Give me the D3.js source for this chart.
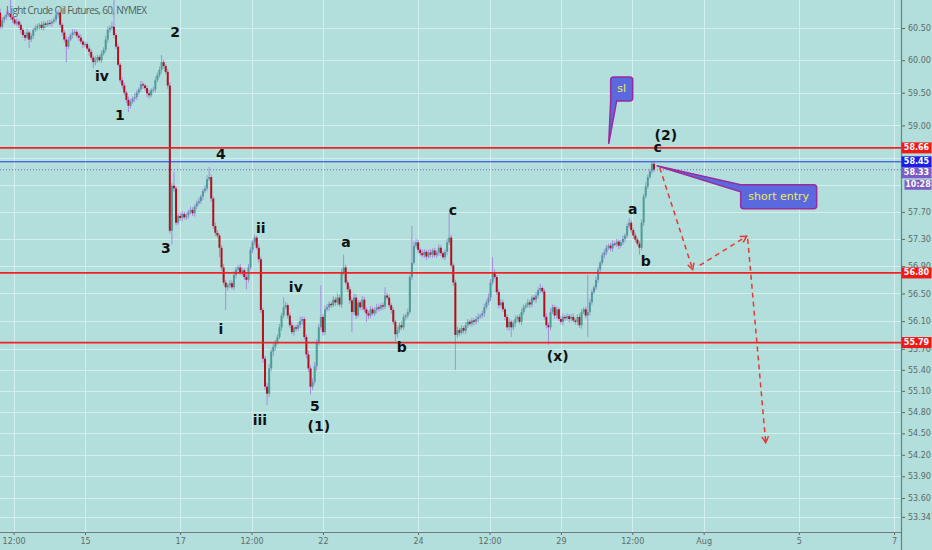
<!DOCTYPE html>
<html>
<head>
<meta charset="utf-8">
<script src="https://cdn.jsdelivr.net/npm/d3@7"></script>
<style>
  body { margin: 0; background: #b2dfdb; }
  svg { display: block; }
</style>
</head>
<body>
<div id="chart"></div>
<script>
// hourly bars, Light Crude Oil Futures (CL1!), 60 min
const firstOpen = 60.74;
const closes = [
  60.52,60.63,60.67,60.71,60.72,60.67,60.63,60.57,60.60,60.55,
  60.47,60.39,60.35,60.43,60.32,60.38,60.47,60.50,60.53,60.55,
  60.50,60.57,60.55,60.58,60.57,60.60,60.63,60.71,60.74,60.55,
  60.43,60.32,60.21,60.32,60.39,60.43,60.44,60.38,60.35,60.29,
  60.24,60.25,60.18,60.13,60.04,59.97,60.00,60.05,60.00,60.10,
  60.16,60.32,60.47,60.50,60.52,60.39,60.21,59.93,59.69,59.61,
  59.50,59.39,59.30,59.36,59.41,59.43,59.50,59.55,59.63,59.61,
  59.57,59.49,59.46,59.54,59.55,59.69,59.77,59.85,59.97,59.91,
  59.82,59.61,57.42,58.09,58.05,57.54,57.64,57.61,57.67,57.62,
  57.65,57.70,57.73,57.68,57.78,57.83,57.86,57.93,58.01,58.05,
  58.19,58.22,57.90,57.49,57.39,57.35,57.17,56.88,56.66,56.59,
  56.62,56.65,56.59,56.77,56.85,56.88,56.81,56.84,56.74,56.70,
  56.88,57.14,57.25,57.32,57.17,57.00,56.26,55.56,55.16,55.06,
  55.42,55.66,55.73,55.80,55.87,56.01,56.18,56.30,56.33,56.18,
  56.04,55.94,56.01,55.99,56.04,56.10,56.13,55.87,55.62,55.42,
  55.16,55.23,55.45,55.80,56.01,56.16,55.94,56.27,56.30,56.35,
  56.33,56.41,56.37,56.44,56.34,56.81,56.88,56.66,56.56,56.40,
  56.23,56.44,56.18,56.37,56.30,56.41,56.27,56.21,56.18,56.27,
  56.21,56.26,56.30,56.28,56.33,56.31,56.47,56.44,56.33,56.26,
  56.09,55.91,55.97,56.04,56.01,56.16,56.18,56.23,56.74,56.95,
  57.20,57.25,57.14,57.09,57.06,57.11,57.04,57.10,57.07,57.13,
  57.06,57.10,57.17,57.09,57.03,57.11,57.25,57.32,56.91,56.66,
  55.90,55.97,55.93,56.00,55.96,56.04,56.09,56.06,56.11,56.09,
  56.13,56.16,56.18,56.21,56.30,56.37,56.44,56.66,56.81,56.74,
  56.52,56.33,56.37,56.27,56.16,56.01,56.09,56.01,56.07,56.13,
  56.16,56.09,56.23,56.30,56.33,56.37,56.34,56.44,56.41,56.47,
  56.55,56.58,56.53,56.16,56.04,56.01,56.23,56.30,56.18,56.27,
  56.13,56.09,56.16,56.14,56.17,56.13,56.16,56.11,56.09,56.16,
  56.04,56.23,56.27,56.18,56.23,56.37,56.52,56.59,56.70,56.85,
  56.95,57.06,57.10,57.17,57.20,57.16,57.23,57.22,57.26,57.20,
  57.25,57.30,57.35,57.49,57.54,57.43,57.35,57.29,57.23,57.17,
  57.54,57.93,58.08,58.22,58.31,58.42,58.33
];
// wick lengths above / below the body, in cents
const wickUp = [
  6,4,3,5,4,23,3,4,5,3, 4,3,5,6,3,4,3,5,4,3, 5,4,3,4,5,3,4,5,4,3,
  3,4,5,4,3,5,4,3,4,5, 3,4,3,5,4,3,6,4,3,5, 4,6,5,4,8,42,3,4,3,5,
  4,3,5,4,3,6,4,3,5,4, 3,4,5,3,4,6,4,5,11,4, 3,4,5,4,21,4,3,5,4,3,
  4,3,5,4,3,4,5,3,4,5, 6,15,4,3,5,4,3,4,5,4, 3,5,4,6,4,3,5,4,3,4,
  5,4,3,4,3,5,4,3,4,5, 6,4,5,3,4,5,4,14,5,3, 4,5,3,4,5,6,4,3,4,5,
  4,5,6,4,5,46,4,6,5,4, 3,5,4,6,4,5,19,4,3,5, 4,6,5,4,3,5,4,3,4,5,
  3,4,5,4,3,4,12,4,5,3, 4,3,5,4,6,4,3,5,4,54, 6,5,4,3,5,4,3,4,5,3,
  4,3,5,4,3,4,5,36,4,3, 4,5,3,4,3,5,4,3,4,3, 4,5,3,4,5,4,6,5,22,4,
  3,4,5,4,3,4,5,3,4,5, 3,4,5,4,3,5,4,3,4,5, 4,6,3,4,5,4,5,4,3,4,
  3,4,5,3,4,3,4,5,3,4, 5,4,3,4,54,5,4,3,5,4, 3,4,5,4,3,4,5,3,4,3,
  4,5,3,4,7,4,3,4,3,4, 5,4,6,4,3,3,4
];
const wickDn = [
  4,3,5,4,3,4,5,3,4,5, 6,4,5,3,13,4,5,3,4,5, 3,4,5,3,4,5,3,4,5,4,
  5,4,24,4,3,5,4,3,5,4, 5,4,3,6,4,9,5,4,3,4, 3,4,5,4,3,5,4,3,4,5,
  4,5,10,4,3,5,4,3,4,5, 4,6,5,3,4,5,3,4,5,4, 4,5,4,20,5,4,3,4,5,3,
  4,5,3,4,5,4,3,4,5,3, 4,3,5,4,5,4,14,5,4,33, 5,4,3,4,5,3,4,5,4,14,
  4,3,5,4,3,5,4,6,5,16, 5,4,6,5,4,3,5,4,3,5, 4,3,5,4,3,4,5,4,6,5,
  11,5,4,6,5,4,5,4,3,5, 4,3,5,4,3,5,4,3,4,5, 29,4,5,3,4,5,4,12,5,4,
  3,4,5,4,3,5,4,3,4,5, 4,10,5,4,3,4,5,4,3,4, 3,4,5,4,3,4,5,3,4,5,
  3,4,5,4,3,4,5,4,3,5, 50,4,5,3,4,5,4,3,4,5, 4,5,3,4,5,3,4,5,4,3,
  4,5,3,4,5,4,5,14,4,5, 4,3,5,4,3,4,5,4,3,5, 4,5,3,4,5,25,4,3,5,4,
  3,4,5,4,3,5,4,3,4,5, 4,5,3,4,31,5,4,3,4,5, 4,3,5,4,3,4,5,3,4,5,
  3,4,5,4,3,4,5,4,3,10, 4,5,3,4,3,4,3
];
const barsBeforeJul15 = 41;
const barsPerDay = 23;

// time axis (trading days counted from 15 Jul session)
const dayTicks = [-1.5, 0, 2, 3.5, 5, 7, 8.5, 10, 11.5, 13, 15, 17];
const dayLabels = ['12:00', '15', '17', '12:00', '22', '24', '12:00', '29', '12:00', 'Aug', '5', '7'];

// price axis
const priceTicks = [60.5, 60, 59.5, 59, 58.5, 58.1, 57.7, 57.3, 56.9, 56.5, 56.1, 55.7, 55.4, 55.1, 54.8, 54.5, 54.2, 53.9, 53.6, 53.34];
const hiddenLabels = [58.5, 58.1];

// horizontal levels: stop, high, last, support 1, support 2
const levelPrices = [58.66, 58.45, 58.33, 56.80, 55.79];
const countdown = '10:28';

// wave count labels (bar index, price)
const waveText = ['iv', '2', '1', '4', '3', 'ii', 'i', 'iv', 'iii', '5', '(1)', 'a', 'b', 'c', '(x)', 'a', 'b', 'c', '(2)'];
const waveBar = [49.2, 84.5, 57.9, 106.7, 80.1, 126, 106.7, 142.9, 125.5, 152.1, 154, 167.1, 194.1, 218.8, 269.5, 305.7, 312, 317.8, 321.7];
const wavePrice = [59.75, 60.43, 59.16, 58.57, 57.17, 57.46, 55.99, 56.60, 54.69, 54.89, 54.61, 57.26, 55.72, 57.73, 55.60, 57.74, 56.97, 58.67, 58.85];

// projected path arrows
const arrowStartBar = [318.8, 338.1, 361.3];
const arrowStartPrice = [58.36, 56.91, 57.30];
const arrowEndBar = [334.7, 360.8, 370.0];
const arrowEndPrice = [56.85, 57.34, 54.37];

// callouts
const slTip = { bar: 294.1, price: 58.72, text: 'sl' };
const entryTip = { bar: 317.3, price: 58.39, text: 'short entry' };

const W = 932, H = 550;
const plotRight = 901, plotBottom = 532;

const x = d3.scaleLinear().domain([0, 17]).range([85, 894]);
const xb = k => x((k - barsBeforeJul15) / barsPerDay);
const y = d3.scaleLog().domain([60.5, 53.6]).range([28, 498]);

const svg = d3.select('#chart').append('svg')
  .attr('width', W)
  .attr('height', H)
  .style('background', '#b2dfdb');

svg.append('defs').append('clipPath').attr('id', 'plot')
  .append('rect').attr('x', 0).attr('y', 0).attr('width', plotRight).attr('height', plotBottom);

// grid
svg.append('g')
  .selectAll('line')
  .data(priceTicks)
  .join('line')
  .attr('x1', 0).attr('x2', plotRight)
  .attr('y1', d => Math.round(y(d)) + 0.5)
  .attr('y2', d => Math.round(y(d)) + 0.5)
  .attr('stroke', '#d3efec')
  .attr('stroke-width', 1);

svg.append('g')
  .selectAll('line')
  .data(dayTicks)
  .join('line')
  .attr('x1', d => Math.round(x(d)) + 0.5)
  .attr('x2', d => Math.round(x(d)) + 0.5)
  .attr('y1', 0).attr('y2', plotBottom)
  .attr('stroke', '#d3efec')
  .attr('stroke-width', 1);

// legend title
svg.append('text')
  .attr('x', 6).attr('y', 14)
  .attr('font-family', 'Open Sans, sans-serif')
  .attr('font-size', 10)
  .attr('textLength', 141)
  .attr('fill', '#4f5f5e')
  .text('Light Crude Oil Futures, 60, NYMEX');

// candles
const bars = closes.map((c, i) => {
  const o = i ? closes[i - 1] : firstOpen;
  return { i, o, c, h: Math.max(o, c) + wickUp[i] / 100, l: Math.min(o, c) - wickDn[i] / 100 };
});

const cg = svg.append('g').attr('clip-path', 'url(#plot)');

cg.selectAll('line.wick')
  .data(bars)
  .join('line')
  .attr('class', 'wick')
  .attr('x1', d => xb(d.i)).attr('x2', d => xb(d.i))
  .attr('y1', d => y(d.h)).attr('y2', d => y(d.l))
  .attr('stroke', '#a58ce0')
  .attr('stroke-width', 1);

cg.selectAll('rect.body')
  .data(bars)
  .join('rect')
  .attr('class', 'body')
  .attr('x', d => xb(d.i) - 1)
  .attr('width', 2)
  .attr('y', d => y(Math.max(d.o, d.c)))
  .attr('height', d => Math.max(1, y(Math.min(d.o, d.c)) - y(Math.max(d.o, d.c))))
  .attr('fill', d => d.c >= d.o ? '#4c9d97' : '#b3101c');

// horizontal levels
const levelColor = ['#ee2424', '#2b35e0', '#7e63c8', '#ee2424', '#ee2424'];
const levelWidth = [1.8, 1, 1, 1.8, 1.8];
svg.append('g')
  .selectAll('line')
  .data(levelPrices)
  .join('line')
  .attr('x1', 0).attr('x2', plotRight)
  .attr('y1', d => y(d)).attr('y2', d => y(d))
  .attr('stroke', (d, i) => levelColor[i])
  .attr('stroke-width', (d, i) => levelWidth[i])
  .attr('stroke-dasharray', (d, i) => i === 2 ? '1,2' : null);

// wave labels
svg.append('g')
  .selectAll('text')
  .data(waveText)
  .join('text')
  .attr('x', (d, i) => xb(waveBar[i]))
  .attr('y', (d, i) => y(wavePrice[i]))
  .attr('text-anchor', 'middle')
  .attr('dominant-baseline', 'central')
  .attr('font-family', 'DejaVu Sans, sans-serif')
  .attr('font-weight', 'bold')
  .attr('font-size', 14)
  .attr('fill', '#111')
  .text(d => d);

// projection arrows
const ag = svg.append('g')
  .attr('stroke', '#e53935')
  .attr('stroke-width', 1.5)
  .attr('fill', 'none');
arrowStartBar.forEach((b, i) => {
  const x1 = xb(b), y1 = y(arrowStartPrice[i]);
  const x2 = xb(arrowEndBar[i]), y2 = y(arrowEndPrice[i]);
  ag.append('line')
    .attr('x1', x1).attr('y1', y1).attr('x2', x2).attr('y2', y2)
    .attr('stroke-dasharray', '5,4');
  const a = Math.atan2(y2 - y1, x2 - x1);
  const len = 7, spread = 0.5;
  ag.append('path')
    .attr('d', `M${x2 - len * Math.cos(a - spread)},${y2 - len * Math.sin(a - spread)} L${x2},${y2} L${x2 - len * Math.cos(a + spread)},${y2 - len * Math.sin(a + spread)}`);
});

// callouts
const calloutFill = '#5a6ade', calloutStroke = '#9b2a9e', calloutText = '#ecec52';
{
  const tx = xb(slTip.bar), ty = y(slTip.price);
  const l = tx + 2, r = tx + 24, t = ty - 67, b = ty - 43;
  svg.append('path')
    .attr('d', `M${l},${b} V${t + 3} Q${l},${t} ${l + 3},${t} H${r - 3} Q${r},${t} ${r},${t + 3} V${b - 3} Q${r},${b} ${r - 3},${b} H${l + 6} L${tx},${ty} Z`)
    .attr('fill', calloutFill)
    .attr('stroke', calloutStroke)
    .attr('stroke-width', 1.5);
  svg.append('text')
    .attr('x', (l + r) / 2).attr('y', (t + b) / 2)
    .attr('text-anchor', 'middle').attr('dominant-baseline', 'central')
    .attr('font-family', 'DejaVu Sans, sans-serif').attr('font-size', 11)
    .attr('fill', calloutText)
    .text(slTip.text);
}
{
  const tx = xb(entryTip.bar), ty = y(entryTip.price);
  const l = tx + 84, r = tx + 160, t = ty + 19, b = ty + 43;
  svg.append('path')
    .attr('d', `M${tx},${ty} L${l},${t} H${r - 3} Q${r},${t} ${r},${t + 3} V${b - 3} Q${r},${b} ${r - 3},${b} H${l + 3} Q${l},${b} ${l},${b - 3} V${t + 7} Z`)
    .attr('fill', calloutFill)
    .attr('stroke', calloutStroke)
    .attr('stroke-width', 1.5);
  svg.append('text')
    .attr('x', (l + r) / 2).attr('y', (t + b) / 2)
    .attr('text-anchor', 'middle').attr('dominant-baseline', 'central')
    .attr('font-family', 'DejaVu Sans, sans-serif').attr('font-size', 11)
    .attr('fill', calloutText)
    .text(entryTip.text);
}

// axes
const axisColor = '#5d6b6a';
const yAxis = svg.append('g')
  .attr('transform', `translate(${plotRight},0)`)
  .call(d3.axisRight(y)
    .tickValues(priceTicks.filter(p => !hiddenLabels.includes(p)))
    .tickFormat(d3.format('.2f'))
    .tickSize(4));
yAxis.select('.domain').remove();
yAxis.selectAll('line').attr('stroke', axisColor);
yAxis.selectAll('text')
  .attr('font-family', 'DejaVu Sans, sans-serif')
  .attr('font-size', 8)
  .attr('fill', axisColor);

const xAxis = svg.append('g')
  .attr('transform', `translate(0,${plotBottom})`)
  .call(d3.axisBottom(x)
    .tickValues(dayTicks)
    .tickFormat((d, i) => dayLabels[i])
    .tickSize(3));
xAxis.select('.domain').remove();
xAxis.selectAll('line').attr('stroke', axisColor);
xAxis.selectAll('text')
  .attr('font-family', 'DejaVu Sans, sans-serif')
  .attr('font-size', 8)
  .attr('fill', axisColor);

svg.append('line')
  .attr('x1', 0).attr('x2', plotRight)
  .attr('y1', plotBottom + 0.5).attr('y2', plotBottom + 0.5)
  .attr('stroke', '#6f7d7c').attr('stroke-width', 1.2);
svg.append('line')
  .attr('x1', plotRight + 0.5).attr('x2', plotRight + 0.5)
  .attr('y1', 0).attr('y2', H)
  .attr('stroke', '#6f7d7c').attr('stroke-width', 1.2);

// price labels on the axis
const labelFill = ['#f21818', '#1a1ef0', '#7c5cc6', '#f21818', '#f21818'];
const labelShift = [0, 0, 3, 0, 0];
const lg = svg.append('g');
levelPrices.forEach((p, i) => {
  const cy = y(p) + labelShift[i];
  lg.append('rect')
    .attr('x', plotRight + 0.5).attr('y', cy - 5.5)
    .attr('width', 30).attr('height', 11)
    .attr('fill', labelFill[i]);
  lg.append('text')
    .attr('x', plotRight + 15.5).attr('y', cy)
    .attr('text-anchor', 'middle').attr('dominant-baseline', 'central')
    .attr('font-family', 'DejaVu Sans, sans-serif').attr('font-size', 8)
    .attr('font-weight', 'bold')
    .attr('fill', '#fff')
    .text(p.toFixed(2));
});
{
  const cy = y(levelPrices[2]) + labelShift[2] + 12;
  lg.append('rect')
    .attr('x', plotRight + 3.5).attr('y', cy - 5)
    .attr('width', 27).attr('height', 10)
    .attr('fill', '#7e5cc8');
  lg.append('text')
    .attr('x', plotRight + 17).attr('y', cy)
    .attr('text-anchor', 'middle').attr('dominant-baseline', 'central')
    .attr('font-family', 'DejaVu Sans, sans-serif').attr('font-size', 8)
    .attr('font-weight', 'bold')
    .attr('fill', '#fff')
    .text(countdown);
}
</script>
</body>
</html>
